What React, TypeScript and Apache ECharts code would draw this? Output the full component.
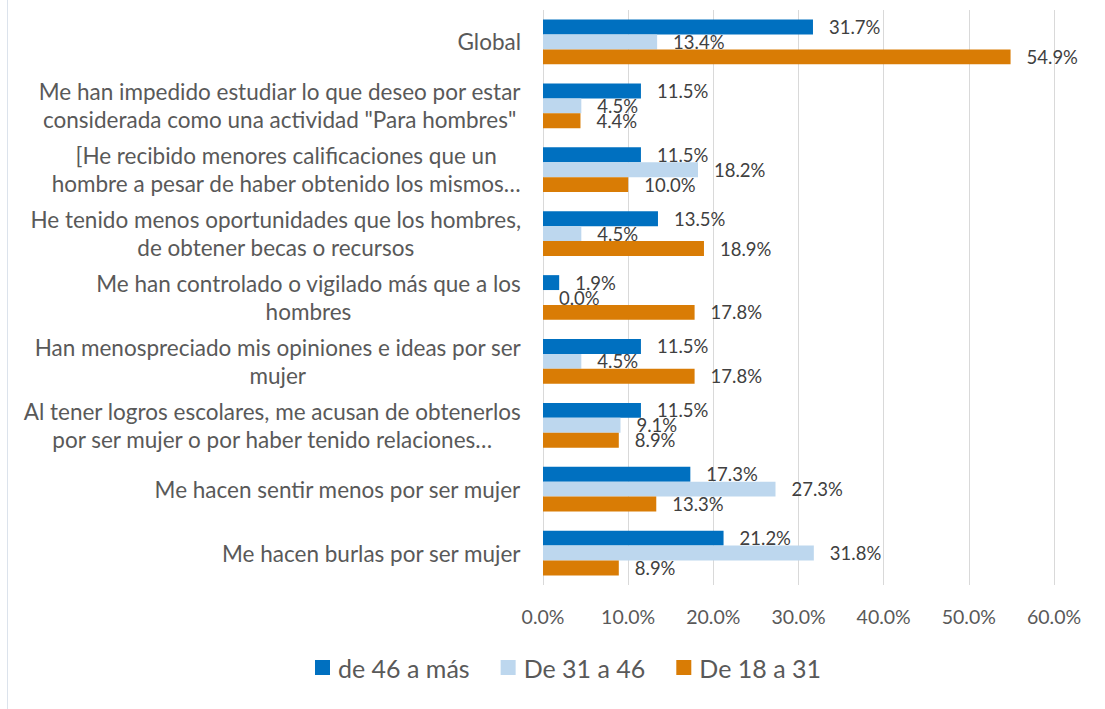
import React, { useEffect, useRef } from "react";
import * as echarts from "echarts";

const categories: string[] = [
  "Global",
  "Me han impedido estudiar lo que deseo por estar\nconsiderada como una actividad \"Para hombres\"",
  "[He recibido menores calificaciones que un\nhombre a pesar de haber obtenido los mismos…",
  "He tenido menos oportunidades que los hombres,\nde obtener becas o recursos",
  "Me han controlado o vigilado más que a los\nhombres",
  "Han menospreciado mis opiniones e ideas por ser\nmujer",
  "Al tener logros escolares, me acusan de obtenerlos\npor ser mujer o por haber tenido relaciones…",
  "Me hacen sentir menos por ser mujer",
  "Me hacen burlas por ser mujer",
];

const seriesNames: string[] = ["de 46 a más", "De 31 a 46", "De 18 a 31"];
const de46aMas: number[] = [31.7, 11.5, 11.5, 13.5, 1.9, 11.5, 11.5, 17.3, 21.2];
const de31a46: number[] = [13.4, 4.5, 18.2, 4.5, 0.0, 4.5, 9.1, 27.3, 31.8];
const de18a31: number[] = [54.9, 4.4, 10.0, 18.9, 17.8, 17.8, 8.9, 13.3, 8.9];
const xTicks: number[] = [0, 10, 20, 30, 40, 50, 60];

const colors = ["#0070C0", "#BDD7EE", "#D97C05"];
const FONT = "Lato";

export default function App() {
  const ref = useRef<HTMLDivElement>(null);
  useEffect(() => {
    if (!ref.current) return;
    const chart = echarts.init(ref.current, null, { renderer: "svg" });
    const values = [de46aMas, de31a46, de18a31];
    const option: any = {
      animation: false,
      backgroundColor: "#ffffff",
      textStyle: { fontFamily: FONT },
      grid: { left: 543, width: 511, top: 10, height: 575, containLabel: false },
      xAxis: {
        type: "value",
        min: xTicks[0],
        max: xTicks[xTicks.length - 1],
        interval: 10,
        axisLine: { show: false },
        axisTick: { show: false },
        splitLine: { show: true, lineStyle: { color: "#D9D9D9", width: 1 } },
        axisLabel: {
          margin: 21,
          color: "#595959",
          fontSize: 19.5,
          fontFamily: FONT,
          formatter: (v: number) => `${v.toFixed(1)}%`,
        },
      },
      yAxis: {
        type: "category",
        inverse: true,
        data: categories,
        axisLine: { show: false },
        axisTick: { show: false },
        axisLabel: {
          margin: 22,
          align: "right",
          color: "#595959",
          fontSize: 22.5,
          fontFamily: FONT,
          formatter: (v: string) =>
            v
              .split("\n")
              .map((l) => `{c|${l}}`)
              .join("\n"),
          rich: {
            c: {
              align: "center",
              color: "#595959",
              fontSize: 22.5,
              fontFamily: FONT,
              lineHeight: 28,
            },
          },
        },
      },
      legend: {
        bottom: 24,
        left: 310,
        itemWidth: 15,
        itemHeight: 15,
        itemGap: 31,
        icon: "rect",
        textStyle: { color: "#595959", fontSize: 25, fontFamily: FONT, padding: [0, 0, 0, 3] },
        data: seriesNames,
      },
      series: seriesNames.map((name, i) => ({
        name,
        type: "bar",
        data: values[i],
        barGap: "0%",
        barCategoryGap: "30%",
        itemStyle: { color: colors[i] },
        label: {
          show: true,
          position: "right",
          distance: 16,
          color: "#404040",
          fontSize: 18.5,
          fontFamily: FONT,
          formatter: (p: any) => `${Number(p.value).toFixed(1)}%`,
        },
      })),
      graphic: [
        {
          type: "line",
          shape: { x1: 7.5, y1: 0, x2: 7.5, y2: 709 },
          style: { stroke: "#DCE3EC", lineWidth: 1 },
        },
      ],
    };
    chart.setOption(option);
    return () => chart.dispose();
  }, []);
  return (
    <div
      ref={ref}
      style={{ position: "fixed", left: 0, top: 0, width: 1105, height: 709, background: "#fff" }}
    />
  );
}
